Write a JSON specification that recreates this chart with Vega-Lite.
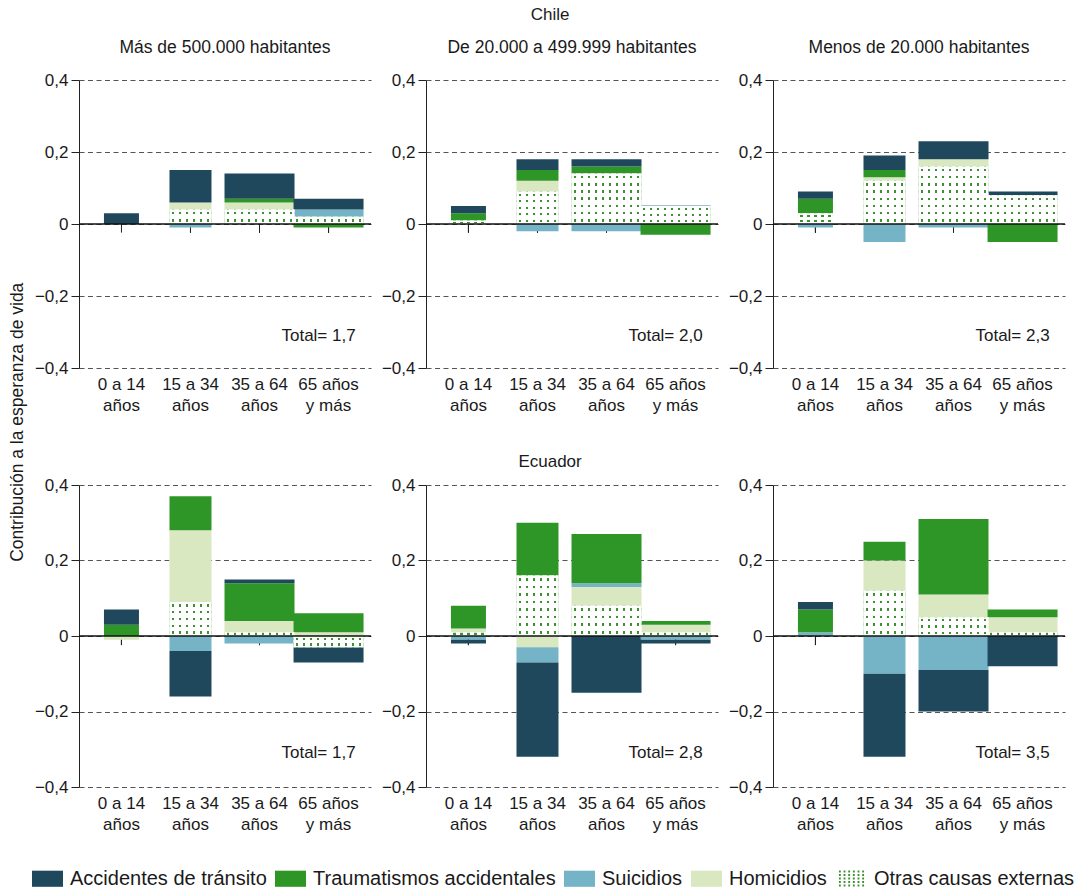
{
  "$schema": "https://vega.github.io/schema/vega-lite/v6.json",
  "padding": {"left": 8, "top": 5, "right": 5, "bottom": 0},
  "config": {
    "font": "Liberation Sans",
    "view": {"stroke": null},
    "locale": {"number": {"decimal": ",", "thousands": ".", "grouping": [3], "currency": ["", " €"], "minus": "−"}},
    "axis": {"labelFont": "Liberation Sans", "labelFontSize": 17, "labelColor": "#1a1a1a"},
    "header": {"labelFont": "Liberation Sans", "labelFontSize": 17.5, "labelColor": "#1a1a1a"}
  },
  "title": {"text": "Contribución a la esperanza de vida", "orient": "left", "anchor": "middle", "fontSize": 17.5, "fontWeight": "normal", "font": "Liberation Sans", "color": "#1a1a1a", "offset": 6, "dx": 25},
  "data": {"values": [
    {"pais": "Chile", "tamano": "Más de 500.000 habitantes", "grupo": "0 a 14 años", "causa": "Accidentes de tránsito", "valor": 0.03},
    {"pais": "Chile", "tamano": "Más de 500.000 habitantes", "grupo": "15 a 34 años", "causa": "Otras causas externas", "valor": 0.04},
    {"pais": "Chile", "tamano": "Más de 500.000 habitantes", "grupo": "15 a 34 años", "causa": "Homicidios", "valor": 0.02},
    {"pais": "Chile", "tamano": "Más de 500.000 habitantes", "grupo": "15 a 34 años", "causa": "Accidentes de tránsito", "valor": 0.09},
    {"pais": "Chile", "tamano": "Más de 500.000 habitantes", "grupo": "15 a 34 años", "causa": "Suicidios", "valor": -0.01},
    {"pais": "Chile", "tamano": "Más de 500.000 habitantes", "grupo": "35 a 64 años", "causa": "Otras causas externas", "valor": 0.04},
    {"pais": "Chile", "tamano": "Más de 500.000 habitantes", "grupo": "35 a 64 años", "causa": "Homicidios", "valor": 0.02},
    {"pais": "Chile", "tamano": "Más de 500.000 habitantes", "grupo": "35 a 64 años", "causa": "Traumatismos accidentales", "valor": 0.01},
    {"pais": "Chile", "tamano": "Más de 500.000 habitantes", "grupo": "35 a 64 años", "causa": "Accidentes de tránsito", "valor": 0.07},
    {"pais": "Chile", "tamano": "Más de 500.000 habitantes", "grupo": "65 años y más", "causa": "Otras causas externas", "valor": 0.02},
    {"pais": "Chile", "tamano": "Más de 500.000 habitantes", "grupo": "65 años y más", "causa": "Suicidios", "valor": 0.02},
    {"pais": "Chile", "tamano": "Más de 500.000 habitantes", "grupo": "65 años y más", "causa": "Accidentes de tránsito", "valor": 0.03},
    {"pais": "Chile", "tamano": "Más de 500.000 habitantes", "grupo": "65 años y más", "causa": "Traumatismos accidentales", "valor": -0.01},

    {"pais": "Chile", "tamano": "De 20.000 a 499.999 habitantes", "grupo": "0 a 14 años", "causa": "Otras causas externas", "valor": 0.01},
    {"pais": "Chile", "tamano": "De 20.000 a 499.999 habitantes", "grupo": "0 a 14 años", "causa": "Traumatismos accidentales", "valor": 0.02},
    {"pais": "Chile", "tamano": "De 20.000 a 499.999 habitantes", "grupo": "0 a 14 años", "causa": "Accidentes de tránsito", "valor": 0.02},
    {"pais": "Chile", "tamano": "De 20.000 a 499.999 habitantes", "grupo": "15 a 34 años", "causa": "Otras causas externas", "valor": 0.09},
    {"pais": "Chile", "tamano": "De 20.000 a 499.999 habitantes", "grupo": "15 a 34 años", "causa": "Homicidios", "valor": 0.03},
    {"pais": "Chile", "tamano": "De 20.000 a 499.999 habitantes", "grupo": "15 a 34 años", "causa": "Traumatismos accidentales", "valor": 0.03},
    {"pais": "Chile", "tamano": "De 20.000 a 499.999 habitantes", "grupo": "15 a 34 años", "causa": "Accidentes de tránsito", "valor": 0.03},
    {"pais": "Chile", "tamano": "De 20.000 a 499.999 habitantes", "grupo": "15 a 34 años", "causa": "Suicidios", "valor": -0.02},
    {"pais": "Chile", "tamano": "De 20.000 a 499.999 habitantes", "grupo": "35 a 64 años", "causa": "Otras causas externas", "valor": 0.14},
    {"pais": "Chile", "tamano": "De 20.000 a 499.999 habitantes", "grupo": "35 a 64 años", "causa": "Traumatismos accidentales", "valor": 0.02},
    {"pais": "Chile", "tamano": "De 20.000 a 499.999 habitantes", "grupo": "35 a 64 años", "causa": "Accidentes de tránsito", "valor": 0.02},
    {"pais": "Chile", "tamano": "De 20.000 a 499.999 habitantes", "grupo": "35 a 64 años", "causa": "Suicidios", "valor": -0.02},
    {"pais": "Chile", "tamano": "De 20.000 a 499.999 habitantes", "grupo": "65 años y más", "causa": "Otras causas externas", "valor": 0.05},
    {"pais": "Chile", "tamano": "De 20.000 a 499.999 habitantes", "grupo": "65 años y más", "causa": "Suicidios", "valor": 0.002},
    {"pais": "Chile", "tamano": "De 20.000 a 499.999 habitantes", "grupo": "65 años y más", "causa": "Traumatismos accidentales", "valor": -0.03},

    {"pais": "Chile", "tamano": "Menos de 20.000 habitantes", "grupo": "0 a 14 años", "causa": "Otras causas externas", "valor": 0.03},
    {"pais": "Chile", "tamano": "Menos de 20.000 habitantes", "grupo": "0 a 14 años", "causa": "Traumatismos accidentales", "valor": 0.04},
    {"pais": "Chile", "tamano": "Menos de 20.000 habitantes", "grupo": "0 a 14 años", "causa": "Accidentes de tránsito", "valor": 0.02},
    {"pais": "Chile", "tamano": "Menos de 20.000 habitantes", "grupo": "0 a 14 años", "causa": "Suicidios", "valor": -0.01},
    {"pais": "Chile", "tamano": "Menos de 20.000 habitantes", "grupo": "15 a 34 años", "causa": "Otras causas externas", "valor": 0.12},
    {"pais": "Chile", "tamano": "Menos de 20.000 habitantes", "grupo": "15 a 34 años", "causa": "Homicidios", "valor": 0.01},
    {"pais": "Chile", "tamano": "Menos de 20.000 habitantes", "grupo": "15 a 34 años", "causa": "Traumatismos accidentales", "valor": 0.02},
    {"pais": "Chile", "tamano": "Menos de 20.000 habitantes", "grupo": "15 a 34 años", "causa": "Accidentes de tránsito", "valor": 0.04},
    {"pais": "Chile", "tamano": "Menos de 20.000 habitantes", "grupo": "15 a 34 años", "causa": "Suicidios", "valor": -0.05},
    {"pais": "Chile", "tamano": "Menos de 20.000 habitantes", "grupo": "35 a 64 años", "causa": "Otras causas externas", "valor": 0.16},
    {"pais": "Chile", "tamano": "Menos de 20.000 habitantes", "grupo": "35 a 64 años", "causa": "Homicidios", "valor": 0.02},
    {"pais": "Chile", "tamano": "Menos de 20.000 habitantes", "grupo": "35 a 64 años", "causa": "Accidentes de tránsito", "valor": 0.05},
    {"pais": "Chile", "tamano": "Menos de 20.000 habitantes", "grupo": "35 a 64 años", "causa": "Suicidios", "valor": -0.01},
    {"pais": "Chile", "tamano": "Menos de 20.000 habitantes", "grupo": "65 años y más", "causa": "Otras causas externas", "valor": 0.08},
    {"pais": "Chile", "tamano": "Menos de 20.000 habitantes", "grupo": "65 años y más", "causa": "Accidentes de tránsito", "valor": 0.01},
    {"pais": "Chile", "tamano": "Menos de 20.000 habitantes", "grupo": "65 años y más", "causa": "Traumatismos accidentales", "valor": -0.05},

    {"pais": "Ecuador", "tamano": "Más de 500.000 habitantes", "grupo": "0 a 14 años", "causa": "Traumatismos accidentales", "valor": 0.03},
    {"pais": "Ecuador", "tamano": "Más de 500.000 habitantes", "grupo": "0 a 14 años", "causa": "Accidentes de tránsito", "valor": 0.04},
    {"pais": "Ecuador", "tamano": "Más de 500.000 habitantes", "grupo": "0 a 14 años", "causa": "Homicidios", "valor": -0.01},
    {"pais": "Ecuador", "tamano": "Más de 500.000 habitantes", "grupo": "15 a 34 años", "causa": "Otras causas externas", "valor": 0.09},
    {"pais": "Ecuador", "tamano": "Más de 500.000 habitantes", "grupo": "15 a 34 años", "causa": "Homicidios", "valor": 0.19},
    {"pais": "Ecuador", "tamano": "Más de 500.000 habitantes", "grupo": "15 a 34 años", "causa": "Traumatismos accidentales", "valor": 0.09},
    {"pais": "Ecuador", "tamano": "Más de 500.000 habitantes", "grupo": "15 a 34 años", "causa": "Suicidios", "valor": -0.04},
    {"pais": "Ecuador", "tamano": "Más de 500.000 habitantes", "grupo": "15 a 34 años", "causa": "Accidentes de tránsito", "valor": -0.12},
    {"pais": "Ecuador", "tamano": "Más de 500.000 habitantes", "grupo": "35 a 64 años", "causa": "Otras causas externas", "valor": 0.01},
    {"pais": "Ecuador", "tamano": "Más de 500.000 habitantes", "grupo": "35 a 64 años", "causa": "Homicidios", "valor": 0.03},
    {"pais": "Ecuador", "tamano": "Más de 500.000 habitantes", "grupo": "35 a 64 años", "causa": "Traumatismos accidentales", "valor": 0.10},
    {"pais": "Ecuador", "tamano": "Más de 500.000 habitantes", "grupo": "35 a 64 años", "causa": "Accidentes de tránsito", "valor": 0.01},
    {"pais": "Ecuador", "tamano": "Más de 500.000 habitantes", "grupo": "35 a 64 años", "causa": "Suicidios", "valor": -0.02},
    {"pais": "Ecuador", "tamano": "Más de 500.000 habitantes", "grupo": "65 años y más", "causa": "Homicidios", "valor": 0.01},
    {"pais": "Ecuador", "tamano": "Más de 500.000 habitantes", "grupo": "65 años y más", "causa": "Traumatismos accidentales", "valor": 0.05},
    {"pais": "Ecuador", "tamano": "Más de 500.000 habitantes", "grupo": "65 años y más", "causa": "Otras causas externas", "valor": -0.03},
    {"pais": "Ecuador", "tamano": "Más de 500.000 habitantes", "grupo": "65 años y más", "causa": "Accidentes de tránsito", "valor": -0.04},

    {"pais": "Ecuador", "tamano": "De 20.000 a 499.999 habitantes", "grupo": "0 a 14 años", "causa": "Otras causas externas", "valor": 0.01},
    {"pais": "Ecuador", "tamano": "De 20.000 a 499.999 habitantes", "grupo": "0 a 14 años", "causa": "Homicidios", "valor": 0.01},
    {"pais": "Ecuador", "tamano": "De 20.000 a 499.999 habitantes", "grupo": "0 a 14 años", "causa": "Traumatismos accidentales", "valor": 0.06},
    {"pais": "Ecuador", "tamano": "De 20.000 a 499.999 habitantes", "grupo": "0 a 14 años", "causa": "Suicidios", "valor": -0.01},
    {"pais": "Ecuador", "tamano": "De 20.000 a 499.999 habitantes", "grupo": "0 a 14 años", "causa": "Accidentes de tránsito", "valor": -0.01},
    {"pais": "Ecuador", "tamano": "De 20.000 a 499.999 habitantes", "grupo": "15 a 34 años", "causa": "Otras causas externas", "valor": 0.16},
    {"pais": "Ecuador", "tamano": "De 20.000 a 499.999 habitantes", "grupo": "15 a 34 años", "causa": "Traumatismos accidentales", "valor": 0.14},
    {"pais": "Ecuador", "tamano": "De 20.000 a 499.999 habitantes", "grupo": "15 a 34 años", "causa": "Homicidios", "valor": -0.03},
    {"pais": "Ecuador", "tamano": "De 20.000 a 499.999 habitantes", "grupo": "15 a 34 años", "causa": "Suicidios", "valor": -0.04},
    {"pais": "Ecuador", "tamano": "De 20.000 a 499.999 habitantes", "grupo": "15 a 34 años", "causa": "Accidentes de tránsito", "valor": -0.25},
    {"pais": "Ecuador", "tamano": "De 20.000 a 499.999 habitantes", "grupo": "35 a 64 años", "causa": "Otras causas externas", "valor": 0.08},
    {"pais": "Ecuador", "tamano": "De 20.000 a 499.999 habitantes", "grupo": "35 a 64 años", "causa": "Homicidios", "valor": 0.05},
    {"pais": "Ecuador", "tamano": "De 20.000 a 499.999 habitantes", "grupo": "35 a 64 años", "causa": "Suicidios", "valor": 0.01},
    {"pais": "Ecuador", "tamano": "De 20.000 a 499.999 habitantes", "grupo": "35 a 64 años", "causa": "Traumatismos accidentales", "valor": 0.13},
    {"pais": "Ecuador", "tamano": "De 20.000 a 499.999 habitantes", "grupo": "35 a 64 años", "causa": "Accidentes de tránsito", "valor": -0.15},
    {"pais": "Ecuador", "tamano": "De 20.000 a 499.999 habitantes", "grupo": "65 años y más", "causa": "Otras causas externas", "valor": 0.01},
    {"pais": "Ecuador", "tamano": "De 20.000 a 499.999 habitantes", "grupo": "65 años y más", "causa": "Homicidios", "valor": 0.02},
    {"pais": "Ecuador", "tamano": "De 20.000 a 499.999 habitantes", "grupo": "65 años y más", "causa": "Traumatismos accidentales", "valor": 0.01},
    {"pais": "Ecuador", "tamano": "De 20.000 a 499.999 habitantes", "grupo": "65 años y más", "causa": "Suicidios", "valor": -0.01},
    {"pais": "Ecuador", "tamano": "De 20.000 a 499.999 habitantes", "grupo": "65 años y más", "causa": "Accidentes de tránsito", "valor": -0.01},

    {"pais": "Ecuador", "tamano": "Menos de 20.000 habitantes", "grupo": "0 a 14 años", "causa": "Suicidios", "valor": 0.01},
    {"pais": "Ecuador", "tamano": "Menos de 20.000 habitantes", "grupo": "0 a 14 años", "causa": "Traumatismos accidentales", "valor": 0.06},
    {"pais": "Ecuador", "tamano": "Menos de 20.000 habitantes", "grupo": "0 a 14 años", "causa": "Accidentes de tránsito", "valor": 0.02},
    {"pais": "Ecuador", "tamano": "Menos de 20.000 habitantes", "grupo": "15 a 34 años", "causa": "Otras causas externas", "valor": 0.12},
    {"pais": "Ecuador", "tamano": "Menos de 20.000 habitantes", "grupo": "15 a 34 años", "causa": "Homicidios", "valor": 0.08},
    {"pais": "Ecuador", "tamano": "Menos de 20.000 habitantes", "grupo": "15 a 34 años", "causa": "Traumatismos accidentales", "valor": 0.05},
    {"pais": "Ecuador", "tamano": "Menos de 20.000 habitantes", "grupo": "15 a 34 años", "causa": "Suicidios", "valor": -0.10},
    {"pais": "Ecuador", "tamano": "Menos de 20.000 habitantes", "grupo": "15 a 34 años", "causa": "Accidentes de tránsito", "valor": -0.22},
    {"pais": "Ecuador", "tamano": "Menos de 20.000 habitantes", "grupo": "35 a 64 años", "causa": "Otras causas externas", "valor": 0.05},
    {"pais": "Ecuador", "tamano": "Menos de 20.000 habitantes", "grupo": "35 a 64 años", "causa": "Homicidios", "valor": 0.06},
    {"pais": "Ecuador", "tamano": "Menos de 20.000 habitantes", "grupo": "35 a 64 años", "causa": "Traumatismos accidentales", "valor": 0.20},
    {"pais": "Ecuador", "tamano": "Menos de 20.000 habitantes", "grupo": "35 a 64 años", "causa": "Suicidios", "valor": -0.09},
    {"pais": "Ecuador", "tamano": "Menos de 20.000 habitantes", "grupo": "35 a 64 años", "causa": "Accidentes de tránsito", "valor": -0.11},
    {"pais": "Ecuador", "tamano": "Menos de 20.000 habitantes", "grupo": "65 años y más", "causa": "Otras causas externas", "valor": 0.01},
    {"pais": "Ecuador", "tamano": "Menos de 20.000 habitantes", "grupo": "65 años y más", "causa": "Homicidios", "valor": 0.04},
    {"pais": "Ecuador", "tamano": "Menos de 20.000 habitantes", "grupo": "65 años y más", "causa": "Traumatismos accidentales", "valor": 0.02},
    {"pais": "Ecuador", "tamano": "Menos de 20.000 habitantes", "grupo": "65 años y más", "causa": "Accidentes de tránsito", "valor": -0.08},

    {"pais": "Chile", "tamano": "Más de 500.000 habitantes", "total": "Total= 1,7"},
    {"pais": "Chile", "tamano": "De 20.000 a 499.999 habitantes", "total": "Total= 2,0"},
    {"pais": "Chile", "tamano": "Menos de 20.000 habitantes", "total": "Total= 2,3"},
    {"pais": "Ecuador", "tamano": "Más de 500.000 habitantes", "total": "Total= 1,7"},
    {"pais": "Ecuador", "tamano": "De 20.000 a 499.999 habitantes", "total": "Total= 2,8"},
    {"pais": "Ecuador", "tamano": "Menos de 20.000 habitantes", "total": "Total= 3,5"}
  ]},
  "transform": [
    {"lookup": "causa", "from": {"data": {"values": [
      {"causa": "Otras causas externas", "orden": 1},
      {"causa": "Homicidios", "orden": 2},
      {"causa": "Suicidios", "orden": 3},
      {"causa": "Traumatismos accidentales", "orden": 4},
      {"causa": "Accidentes de tránsito", "orden": 5}
    ]}, "key": "causa", "fields": ["orden"]}}
  ],
  "spacing": 40,
  "vconcat": [
    {
      "title": {"text": "Chile", "fontSize": 17, "fontWeight": "normal", "anchor": "middle", "color": "#1a1a1a", "offset": 15},
      "transform": [{"filter": "datum.pais == 'Chile'"}],
      "facet": {"column": {"field": "tamano", "type": "nominal", "sort": ["Más de 500.000 habitantes", "De 20.000 a 499.999 habitantes", "Menos de 20.000 habitantes"], "header": {"title": null, "labelPadding": 24}}},
      "spacing": 55,
      "bounds": "flush",
      "resolve": {"axis": {"y": "independent", "x": "independent"}},
      "spec": {
        "width": 292,
        "height": 288,
        "layer": [
          {
            "transform": [{"filter": "isValid(datum.grupo)"}],
            "mark": {"type": "rule", "color": "#222", "strokeWidth": 1},
            "encoding": {
              "x": {"field": "grupo", "type": "nominal", "sort": ["0 a 14 años", "15 a 34 años", "35 a 64 años", "65 años y más"], "scale": {"paddingInner": 0, "paddingOuter": 0.115}},
              "y": {"datum": 0, "type": "quantitative"},
              "y2": {"datum": -0.024}
            }
          },
          {
            "transform": [{"filter": "isValid(datum.valor)"}],
            "mark": {"type": "bar"},
            "encoding": {
              "x": {"field": "grupo", "type": "nominal", "sort": ["0 a 14 años", "15 a 34 años", "35 a 64 años", "65 años y más"], "scale": {"paddingInner": 0, "paddingOuter": 0.115},
                "axis": {"title": null, "domain": false, "ticks": false, "labelAngle": 0, "labelAlign": "center", "labelPadding": 16, "labelLineHeight": 21, "labelExpr": "datum.value == '65 años y más' ? ['65 años', 'y más'] : [replace(datum.value, ' años', ''), 'años']"}},
              "y": {"field": "valor", "type": "quantitative", "stack": "zero", "scale": {"domain": [-0.4, 0.4], "nice": false},
                "axis": {"title": null, "values": [-0.4, -0.2, 0, 0.2, 0.4], "format": ".1~f", "grid": true, "gridDash": [5, 3.5], "gridColor": "#555", "gridWidth": 1, "domainColor": "#222", "tickColor": "#222", "tickSize": 8, "labelPadding": 3}},
              "color": {"field": "causa", "type": "nominal",
                "scale": {"domain": ["Accidentes de tránsito", "Traumatismos accidentales", "Suicidios", "Homicidios", "Otras causas externas"], "range": ["#1f485d", "#2e9626", "#74b4c6", "#d9e8c1", "#3d9130"]},
                "legend": {"title": null, "values": ["Accidentes de tránsito", "Traumatismos accidentales", "Suicidios", "Homicidios"], "orient": "none", "legendX": -47, "legendY": 783, "direction": "horizontal", "columns": 4, "labelFontSize": 20, "labelFont": "Liberation Sans", "labelColor": "#1a1a1a", "labelLimit": 0, "labelOffset": 7, "columnPadding": 8, "symbolType": "M-1,-0.52H1V0.52H-1Z", "symbolSize": 961, "symbolStrokeWidth": 0, "symbolOpacity": 1}},
              "order": {"field": "orden", "type": "quantitative", "sort": "ascending"},
              "size": {"field": "grupo", "type": "ordinal", "scale": {"type": "ordinal", "domain": ["0 a 14 años", "15 a 34 años", "35 a 64 años", "65 años y más"], "range": [35, 42, 70, 70]}, "legend": null}
            }
          },
          {
            "transform": [{"filter": "datum.causa == 'Otras causas externas'"}],
            "mark": {"type": "bar"},
            "encoding": {
              "x": {"field": "grupo", "type": "nominal", "sort": ["0 a 14 años", "15 a 34 años", "35 a 64 años", "65 años y más"], "scale": {"paddingInner": 0, "paddingOuter": 0.115}},
              "y": {"field": "valor", "type": "quantitative", "stack": null},
              "size": {"field": "grupo", "type": "ordinal", "scale": {"type": "ordinal", "domain": ["0 a 14 años", "15 a 34 años", "35 a 64 años", "65 años y más"], "range": [35, 42, 70, 70]}, "legend": null},
              "fill": {"condition": [
                {"test": "datum.grupo == '0 a 14 años'", "value": {"gradient": "linear", "x1": 0, "y1": 0, "x2": 1, "y2": 0, "stops": [
                  {"offset": 0, "color": "#fff"}, {"offset": 0.066, "color": "#fff"}, {"offset": 0.066, "color": "#3d9130"}, {"offset": 0.134, "color": "#3d9130"}, {"offset": 0.134, "color": "#fff"},
                  {"offset": 0.266, "color": "#fff"}, {"offset": 0.266, "color": "#3d9130"}, {"offset": 0.334, "color": "#3d9130"}, {"offset": 0.334, "color": "#fff"},
                  {"offset": 0.466, "color": "#fff"}, {"offset": 0.466, "color": "#3d9130"}, {"offset": 0.534, "color": "#3d9130"}, {"offset": 0.534, "color": "#fff"},
                  {"offset": 0.666, "color": "#fff"}, {"offset": 0.666, "color": "#3d9130"}, {"offset": 0.734, "color": "#3d9130"}, {"offset": 0.734, "color": "#fff"},
                  {"offset": 0.866, "color": "#fff"}, {"offset": 0.866, "color": "#3d9130"}, {"offset": 0.934, "color": "#3d9130"}, {"offset": 0.934, "color": "#fff"},
                  {"offset": 1, "color": "#fff"}]}},
                {"test": "datum.grupo == '15 a 34 años'", "value": {"gradient": "linear", "x1": 0, "y1": 0, "x2": 1, "y2": 0, "stops": [
                  {"offset": 0, "color": "#fff"}, {"offset": 0.055, "color": "#fff"}, {"offset": 0.055, "color": "#3d9130"}, {"offset": 0.112, "color": "#3d9130"}, {"offset": 0.112, "color": "#fff"},
                  {"offset": 0.222, "color": "#fff"}, {"offset": 0.222, "color": "#3d9130"}, {"offset": 0.278, "color": "#3d9130"}, {"offset": 0.278, "color": "#fff"},
                  {"offset": 0.389, "color": "#fff"}, {"offset": 0.389, "color": "#3d9130"}, {"offset": 0.445, "color": "#3d9130"}, {"offset": 0.445, "color": "#fff"},
                  {"offset": 0.555, "color": "#fff"}, {"offset": 0.555, "color": "#3d9130"}, {"offset": 0.612, "color": "#3d9130"}, {"offset": 0.612, "color": "#fff"},
                  {"offset": 0.722, "color": "#fff"}, {"offset": 0.722, "color": "#3d9130"}, {"offset": 0.778, "color": "#3d9130"}, {"offset": 0.778, "color": "#fff"},
                  {"offset": 0.889, "color": "#fff"}, {"offset": 0.889, "color": "#3d9130"}, {"offset": 0.945, "color": "#3d9130"}, {"offset": 0.945, "color": "#fff"},
                  {"offset": 1, "color": "#fff"}]}}
              ], "value": {"gradient": "linear", "x1": 0, "y1": 0, "x2": 1, "y2": 0, "stops": [
                  {"offset": 0, "color": "#fff"}, {"offset": 0.033, "color": "#fff"}, {"offset": 0.033, "color": "#3d9130"}, {"offset": 0.067, "color": "#3d9130"}, {"offset": 0.067, "color": "#fff"},
                  {"offset": 0.133, "color": "#fff"}, {"offset": 0.133, "color": "#3d9130"}, {"offset": 0.167, "color": "#3d9130"}, {"offset": 0.167, "color": "#fff"},
                  {"offset": 0.233, "color": "#fff"}, {"offset": 0.233, "color": "#3d9130"}, {"offset": 0.267, "color": "#3d9130"}, {"offset": 0.267, "color": "#fff"},
                  {"offset": 0.333, "color": "#fff"}, {"offset": 0.333, "color": "#3d9130"}, {"offset": 0.367, "color": "#3d9130"}, {"offset": 0.367, "color": "#fff"},
                  {"offset": 0.433, "color": "#fff"}, {"offset": 0.433, "color": "#3d9130"}, {"offset": 0.467, "color": "#3d9130"}, {"offset": 0.467, "color": "#fff"},
                  {"offset": 0.533, "color": "#fff"}, {"offset": 0.533, "color": "#3d9130"}, {"offset": 0.567, "color": "#3d9130"}, {"offset": 0.567, "color": "#fff"},
                  {"offset": 0.633, "color": "#fff"}, {"offset": 0.633, "color": "#3d9130"}, {"offset": 0.667, "color": "#3d9130"}, {"offset": 0.667, "color": "#fff"},
                  {"offset": 0.733, "color": "#fff"}, {"offset": 0.733, "color": "#3d9130"}, {"offset": 0.767, "color": "#3d9130"}, {"offset": 0.767, "color": "#fff"},
                  {"offset": 0.833, "color": "#fff"}, {"offset": 0.833, "color": "#3d9130"}, {"offset": 0.867, "color": "#3d9130"}, {"offset": 0.867, "color": "#fff"},
                  {"offset": 0.933, "color": "#fff"}, {"offset": 0.933, "color": "#3d9130"}, {"offset": 0.967, "color": "#3d9130"}, {"offset": 0.967, "color": "#fff"},
                  {"offset": 1, "color": "#fff"}]}}
            }
          },
          {
            "transform": [{"filter": "datum.causa == 'Otras causas externas'"}],
            "mark": {"type": "bar"},
            "encoding": {
              "x": {"field": "grupo", "type": "nominal", "sort": ["0 a 14 años", "15 a 34 años", "35 a 64 años", "65 años y más"], "scale": {"paddingInner": 0, "paddingOuter": 0.115}},
              "y": {"field": "valor", "type": "quantitative", "stack": null},
              "size": {"field": "grupo", "type": "ordinal", "scale": {"type": "ordinal", "domain": ["0 a 14 años", "15 a 34 años", "35 a 64 años", "65 años y más"], "range": [35, 42, 70, 70]}, "legend": null},
              "fill": {"condition": [
                {"test": "abs(datum.valor) < 0.025", "value": {"gradient": "linear", "x1": 0, "y1": 0, "x2": 0, "y2": 1, "stops": [
                  {"offset": 0, "color": "#fff"}, {"offset": 0.32, "color": "#fff"}, {"offset": 0.32, "color": "rgba(255,255,255,0)"}, {"offset": 0.68, "color": "rgba(255,255,255,0)"}, {"offset": 0.68, "color": "#fff"}, {"offset": 1, "color": "#fff"}]}},
                {"test": "abs(datum.valor) < 0.045", "value": {"gradient": "linear", "x1": 0, "y1": 0, "x2": 0, "y2": 1, "stops": [
                  {"offset": 0, "color": "#fff"},
                  {"offset": 0.16, "color": "#fff"}, {"offset": 0.16, "color": "rgba(255,255,255,0)"}, {"offset": 0.34, "color": "rgba(255,255,255,0)"}, {"offset": 0.34, "color": "#fff"},
                  {"offset": 0.66, "color": "#fff"}, {"offset": 0.66, "color": "rgba(255,255,255,0)"}, {"offset": 0.84, "color": "rgba(255,255,255,0)"}, {"offset": 0.84, "color": "#fff"},
                  {"offset": 1, "color": "#fff"}]}},
                {"test": "abs(datum.valor) < 0.065", "value": {"gradient": "linear", "x1": 0, "y1": 0, "x2": 0, "y2": 1, "stops": [
                  {"offset": 0, "color": "#fff"},
                  {"offset": 0.107, "color": "#fff"}, {"offset": 0.107, "color": "rgba(255,255,255,0)"}, {"offset": 0.227, "color": "rgba(255,255,255,0)"}, {"offset": 0.227, "color": "#fff"},
                  {"offset": 0.44, "color": "#fff"}, {"offset": 0.44, "color": "rgba(255,255,255,0)"}, {"offset": 0.56, "color": "rgba(255,255,255,0)"}, {"offset": 0.56, "color": "#fff"},
                  {"offset": 0.773, "color": "#fff"}, {"offset": 0.773, "color": "rgba(255,255,255,0)"}, {"offset": 0.893, "color": "rgba(255,255,255,0)"}, {"offset": 0.893, "color": "#fff"},
                  {"offset": 1, "color": "#fff"}]}},
                {"test": "abs(datum.valor) < 0.085", "value": {"gradient": "linear", "x1": 0, "y1": 0, "x2": 0, "y2": 1, "stops": [
                  {"offset": 0, "color": "#fff"},
                  {"offset": 0.08, "color": "#fff"}, {"offset": 0.08, "color": "rgba(255,255,255,0)"}, {"offset": 0.17, "color": "rgba(255,255,255,0)"}, {"offset": 0.17, "color": "#fff"},
                  {"offset": 0.33, "color": "#fff"}, {"offset": 0.33, "color": "rgba(255,255,255,0)"}, {"offset": 0.42, "color": "rgba(255,255,255,0)"}, {"offset": 0.42, "color": "#fff"},
                  {"offset": 0.58, "color": "#fff"}, {"offset": 0.58, "color": "rgba(255,255,255,0)"}, {"offset": 0.67, "color": "rgba(255,255,255,0)"}, {"offset": 0.67, "color": "#fff"},
                  {"offset": 0.83, "color": "#fff"}, {"offset": 0.83, "color": "rgba(255,255,255,0)"}, {"offset": 0.92, "color": "rgba(255,255,255,0)"}, {"offset": 0.92, "color": "#fff"},
                  {"offset": 1, "color": "#fff"}]}},
                {"test": "abs(datum.valor) < 0.105", "value": {"gradient": "linear", "x1": 0, "y1": 0, "x2": 0, "y2": 1, "stops": [
                  {"offset": 0, "color": "#fff"},
                  {"offset": 0.064, "color": "#fff"}, {"offset": 0.064, "color": "rgba(255,255,255,0)"}, {"offset": 0.136, "color": "rgba(255,255,255,0)"}, {"offset": 0.136, "color": "#fff"},
                  {"offset": 0.264, "color": "#fff"}, {"offset": 0.264, "color": "rgba(255,255,255,0)"}, {"offset": 0.336, "color": "rgba(255,255,255,0)"}, {"offset": 0.336, "color": "#fff"},
                  {"offset": 0.464, "color": "#fff"}, {"offset": 0.464, "color": "rgba(255,255,255,0)"}, {"offset": 0.536, "color": "rgba(255,255,255,0)"}, {"offset": 0.536, "color": "#fff"},
                  {"offset": 0.664, "color": "#fff"}, {"offset": 0.664, "color": "rgba(255,255,255,0)"}, {"offset": 0.736, "color": "rgba(255,255,255,0)"}, {"offset": 0.736, "color": "#fff"},
                  {"offset": 0.864, "color": "#fff"}, {"offset": 0.864, "color": "rgba(255,255,255,0)"}, {"offset": 0.936, "color": "rgba(255,255,255,0)"}, {"offset": 0.936, "color": "#fff"},
                  {"offset": 1, "color": "#fff"}]}},
                {"test": "abs(datum.valor) < 0.13", "value": {"gradient": "linear", "x1": 0, "y1": 0, "x2": 0, "y2": 1, "stops": [
                  {"offset": 0, "color": "#fff"},
                  {"offset": 0.053, "color": "#fff"}, {"offset": 0.053, "color": "rgba(255,255,255,0)"}, {"offset": 0.113, "color": "rgba(255,255,255,0)"}, {"offset": 0.113, "color": "#fff"},
                  {"offset": 0.22, "color": "#fff"}, {"offset": 0.22, "color": "rgba(255,255,255,0)"}, {"offset": 0.28, "color": "rgba(255,255,255,0)"}, {"offset": 0.28, "color": "#fff"},
                  {"offset": 0.387, "color": "#fff"}, {"offset": 0.387, "color": "rgba(255,255,255,0)"}, {"offset": 0.447, "color": "rgba(255,255,255,0)"}, {"offset": 0.447, "color": "#fff"},
                  {"offset": 0.553, "color": "#fff"}, {"offset": 0.553, "color": "rgba(255,255,255,0)"}, {"offset": 0.613, "color": "rgba(255,255,255,0)"}, {"offset": 0.613, "color": "#fff"},
                  {"offset": 0.72, "color": "#fff"}, {"offset": 0.72, "color": "rgba(255,255,255,0)"}, {"offset": 0.78, "color": "rgba(255,255,255,0)"}, {"offset": 0.78, "color": "#fff"},
                  {"offset": 0.887, "color": "#fff"}, {"offset": 0.887, "color": "rgba(255,255,255,0)"}, {"offset": 0.947, "color": "rgba(255,255,255,0)"}, {"offset": 0.947, "color": "#fff"},
                  {"offset": 1, "color": "#fff"}]}},
                {"test": "abs(datum.valor) < 0.15", "value": {"gradient": "linear", "x1": 0, "y1": 0, "x2": 0, "y2": 1, "stops": [
                  {"offset": 0, "color": "#fff"},
                  {"offset": 0.046, "color": "#fff"}, {"offset": 0.046, "color": "rgba(255,255,255,0)"}, {"offset": 0.097, "color": "rgba(255,255,255,0)"}, {"offset": 0.097, "color": "#fff"},
                  {"offset": 0.189, "color": "#fff"}, {"offset": 0.189, "color": "rgba(255,255,255,0)"}, {"offset": 0.24, "color": "rgba(255,255,255,0)"}, {"offset": 0.24, "color": "#fff"},
                  {"offset": 0.331, "color": "#fff"}, {"offset": 0.331, "color": "rgba(255,255,255,0)"}, {"offset": 0.383, "color": "rgba(255,255,255,0)"}, {"offset": 0.383, "color": "#fff"},
                  {"offset": 0.474, "color": "#fff"}, {"offset": 0.474, "color": "rgba(255,255,255,0)"}, {"offset": 0.526, "color": "rgba(255,255,255,0)"}, {"offset": 0.526, "color": "#fff"},
                  {"offset": 0.617, "color": "#fff"}, {"offset": 0.617, "color": "rgba(255,255,255,0)"}, {"offset": 0.669, "color": "rgba(255,255,255,0)"}, {"offset": 0.669, "color": "#fff"},
                  {"offset": 0.76, "color": "#fff"}, {"offset": 0.76, "color": "rgba(255,255,255,0)"}, {"offset": 0.811, "color": "rgba(255,255,255,0)"}, {"offset": 0.811, "color": "#fff"},
                  {"offset": 0.903, "color": "#fff"}, {"offset": 0.903, "color": "rgba(255,255,255,0)"}, {"offset": 0.954, "color": "rgba(255,255,255,0)"}, {"offset": 0.954, "color": "#fff"},
                  {"offset": 1, "color": "#fff"}]}}
              ], "value": {"gradient": "linear", "x1": 0, "y1": 0, "x2": 0, "y2": 1, "stops": [
                  {"offset": 0, "color": "#fff"},
                  {"offset": 0.04, "color": "#fff"}, {"offset": 0.04, "color": "rgba(255,255,255,0)"}, {"offset": 0.085, "color": "rgba(255,255,255,0)"}, {"offset": 0.085, "color": "#fff"},
                  {"offset": 0.165, "color": "#fff"}, {"offset": 0.165, "color": "rgba(255,255,255,0)"}, {"offset": 0.21, "color": "rgba(255,255,255,0)"}, {"offset": 0.21, "color": "#fff"},
                  {"offset": 0.29, "color": "#fff"}, {"offset": 0.29, "color": "rgba(255,255,255,0)"}, {"offset": 0.335, "color": "rgba(255,255,255,0)"}, {"offset": 0.335, "color": "#fff"},
                  {"offset": 0.415, "color": "#fff"}, {"offset": 0.415, "color": "rgba(255,255,255,0)"}, {"offset": 0.46, "color": "rgba(255,255,255,0)"}, {"offset": 0.46, "color": "#fff"},
                  {"offset": 0.54, "color": "#fff"}, {"offset": 0.54, "color": "rgba(255,255,255,0)"}, {"offset": 0.585, "color": "rgba(255,255,255,0)"}, {"offset": 0.585, "color": "#fff"},
                  {"offset": 0.665, "color": "#fff"}, {"offset": 0.665, "color": "rgba(255,255,255,0)"}, {"offset": 0.71, "color": "rgba(255,255,255,0)"}, {"offset": 0.71, "color": "#fff"},
                  {"offset": 0.79, "color": "#fff"}, {"offset": 0.79, "color": "rgba(255,255,255,0)"}, {"offset": 0.835, "color": "rgba(255,255,255,0)"}, {"offset": 0.835, "color": "#fff"},
                  {"offset": 0.915, "color": "#fff"}, {"offset": 0.915, "color": "rgba(255,255,255,0)"}, {"offset": 0.96, "color": "rgba(255,255,255,0)"}, {"offset": 0.96, "color": "#fff"},
                  {"offset": 1, "color": "#fff"}]}}
            }
          },
          {
            "transform": [{"filter": "datum.causa == 'Otras causas externas'"}],
            "mark": {"type": "point", "filled": true, "opacity": 0, "color": "#3d9130"},
            "encoding": {
              "x": {"field": "grupo", "type": "nominal", "sort": ["0 a 14 años", "15 a 34 años", "35 a 64 años", "65 años y más"], "scale": {"paddingInner": 0, "paddingOuter": 0.115}},
              "y": {"field": "valor", "type": "quantitative", "stack": null},
              "shape": {"field": "causa", "type": "nominal",
                "scale": {"domain": ["Otras causas externas"], "range": ["M-0.81,-0.51h0.12v0.12h-0.12zM-0.51,-0.51h0.12v0.12h-0.12zM-0.21,-0.51h0.12v0.12h-0.12zM0.09,-0.51h0.12v0.12h-0.12zM0.39,-0.51h0.12v0.12h-0.12zM0.69,-0.51h0.12v0.12h-0.12zM-0.81,-0.285h0.12v0.12h-0.12zM-0.51,-0.285h0.12v0.12h-0.12zM-0.21,-0.285h0.12v0.12h-0.12zM0.09,-0.285h0.12v0.12h-0.12zM0.39,-0.285h0.12v0.12h-0.12zM0.69,-0.285h0.12v0.12h-0.12zM-0.81,-0.06h0.12v0.12h-0.12zM-0.51,-0.06h0.12v0.12h-0.12zM-0.21,-0.06h0.12v0.12h-0.12zM0.09,-0.06h0.12v0.12h-0.12zM0.39,-0.06h0.12v0.12h-0.12zM0.69,-0.06h0.12v0.12h-0.12zM-0.81,0.165h0.12v0.12h-0.12zM-0.51,0.165h0.12v0.12h-0.12zM-0.21,0.165h0.12v0.12h-0.12zM0.09,0.165h0.12v0.12h-0.12zM0.39,0.165h0.12v0.12h-0.12zM0.69,0.165h0.12v0.12h-0.12zM-0.81,0.39h0.12v0.12h-0.12zM-0.51,0.39h0.12v0.12h-0.12zM-0.21,0.39h0.12v0.12h-0.12zM0.09,0.39h0.12v0.12h-0.12zM0.39,0.39h0.12v0.12h-0.12zM0.69,0.39h0.12v0.12h-0.12z"]},
                "legend": {"title": null, "orient": "none", "legendX": 757, "legendY": 783, "labelFontSize": 20, "labelFont": "Liberation Sans", "labelColor": "#1a1a1a", "labelLimit": 0, "labelOffset": 7, "symbolSize": 961, "symbolOpacity": 1, "symbolFillColor": "#3d9130", "symbolStrokeWidth": 0}}
            }
          },
          {
            "transform": [{"filter": "isValid(datum.total)"}],
            "mark": {"type": "rule", "color": "#111", "strokeWidth": 1.3},
            "encoding": {"y": {"datum": 0, "type": "quantitative"}}
          },
          {
            "transform": [{"filter": "isValid(datum.total)"}],
            "mark": {"type": "text", "fontSize": 17, "font": "Liberation Sans", "color": "#1a1a1a", "baseline": "middle", "align": "center", "dx": -10},
            "encoding": {
              "x": {"datum": "65 años y más", "type": "nominal"},
              "y": {"datum": -0.31, "type": "quantitative"},
              "text": {"field": "total", "type": "nominal"}
            }
          }
        ]
      }
    },
    {
      "title": {"text": "Ecuador", "fontSize": 17, "fontWeight": "normal", "anchor": "middle", "color": "#1a1a1a", "offset": 5},
      "transform": [{"filter": "datum.pais == 'Ecuador'"}],
      "facet": {"column": {"field": "tamano", "type": "nominal", "sort": ["Más de 500.000 habitantes", "De 20.000 a 499.999 habitantes", "Menos de 20.000 habitantes"], "header": {"title": null, "labels": false}}},
      "spacing": 55,
      "bounds": "flush",
      "resolve": {"axis": {"y": "independent", "x": "independent"}},
      "spec": {
        "width": 292,
        "height": 302,
        "layer": [
          {
            "transform": [{"filter": "isValid(datum.grupo)"}],
            "mark": {"type": "rule", "color": "#222", "strokeWidth": 1},
            "encoding": {
              "x": {"field": "grupo", "type": "nominal", "sort": ["0 a 14 años", "15 a 34 años", "35 a 64 años", "65 años y más"], "scale": {"paddingInner": 0, "paddingOuter": 0.115}},
              "y": {"datum": 0, "type": "quantitative"},
              "y2": {"datum": -0.024}
            }
          },
          {
            "transform": [{"filter": "isValid(datum.valor)"}],
            "mark": {"type": "bar"},
            "encoding": {
              "x": {"field": "grupo", "type": "nominal", "sort": ["0 a 14 años", "15 a 34 años", "35 a 64 años", "65 años y más"], "scale": {"paddingInner": 0, "paddingOuter": 0.115},
                "axis": {"title": null, "domain": false, "ticks": false, "labelAngle": 0, "labelAlign": "center", "labelPadding": 16, "labelLineHeight": 21, "labelExpr": "datum.value == '65 años y más' ? ['65 años', 'y más'] : [replace(datum.value, ' años', ''), 'años']"}},
              "y": {"field": "valor", "type": "quantitative", "stack": "zero", "scale": {"domain": [-0.4, 0.4], "nice": false},
                "axis": {"title": null, "values": [-0.4, -0.2, 0, 0.2, 0.4], "format": ".1~f", "grid": true, "gridDash": [5, 3.5], "gridColor": "#555", "gridWidth": 1, "domainColor": "#222", "tickColor": "#222", "tickSize": 8, "labelPadding": 3}},
              "color": {"field": "causa", "type": "nominal",
                "scale": {"domain": ["Accidentes de tránsito", "Traumatismos accidentales", "Suicidios", "Homicidios", "Otras causas externas"], "range": ["#1f485d", "#2e9626", "#74b4c6", "#d9e8c1", "#3d9130"]}},
              "order": {"field": "orden", "type": "quantitative", "sort": "ascending"},
              "size": {"field": "grupo", "type": "ordinal", "scale": {"type": "ordinal", "domain": ["0 a 14 años", "15 a 34 años", "35 a 64 años", "65 años y más"], "range": [35, 42, 70, 70]}, "legend": null}
            }
          },
          {
            "transform": [{"filter": "datum.causa == 'Otras causas externas'"}],
            "mark": {"type": "bar"},
            "encoding": {
              "x": {"field": "grupo", "type": "nominal", "sort": ["0 a 14 años", "15 a 34 años", "35 a 64 años", "65 años y más"], "scale": {"paddingInner": 0, "paddingOuter": 0.115}},
              "y": {"field": "valor", "type": "quantitative", "stack": null},
              "size": {"field": "grupo", "type": "ordinal", "scale": {"type": "ordinal", "domain": ["0 a 14 años", "15 a 34 años", "35 a 64 años", "65 años y más"], "range": [35, 42, 70, 70]}, "legend": null},
              "fill": {"condition": [
                {"test": "datum.grupo == '0 a 14 años'", "value": {"gradient": "linear", "x1": 0, "y1": 0, "x2": 1, "y2": 0, "stops": [
                  {"offset": 0, "color": "#fff"}, {"offset": 0.066, "color": "#fff"}, {"offset": 0.066, "color": "#3d9130"}, {"offset": 0.134, "color": "#3d9130"}, {"offset": 0.134, "color": "#fff"},
                  {"offset": 0.266, "color": "#fff"}, {"offset": 0.266, "color": "#3d9130"}, {"offset": 0.334, "color": "#3d9130"}, {"offset": 0.334, "color": "#fff"},
                  {"offset": 0.466, "color": "#fff"}, {"offset": 0.466, "color": "#3d9130"}, {"offset": 0.534, "color": "#3d9130"}, {"offset": 0.534, "color": "#fff"},
                  {"offset": 0.666, "color": "#fff"}, {"offset": 0.666, "color": "#3d9130"}, {"offset": 0.734, "color": "#3d9130"}, {"offset": 0.734, "color": "#fff"},
                  {"offset": 0.866, "color": "#fff"}, {"offset": 0.866, "color": "#3d9130"}, {"offset": 0.934, "color": "#3d9130"}, {"offset": 0.934, "color": "#fff"},
                  {"offset": 1, "color": "#fff"}]}},
                {"test": "datum.grupo == '15 a 34 años'", "value": {"gradient": "linear", "x1": 0, "y1": 0, "x2": 1, "y2": 0, "stops": [
                  {"offset": 0, "color": "#fff"}, {"offset": 0.055, "color": "#fff"}, {"offset": 0.055, "color": "#3d9130"}, {"offset": 0.112, "color": "#3d9130"}, {"offset": 0.112, "color": "#fff"},
                  {"offset": 0.222, "color": "#fff"}, {"offset": 0.222, "color": "#3d9130"}, {"offset": 0.278, "color": "#3d9130"}, {"offset": 0.278, "color": "#fff"},
                  {"offset": 0.389, "color": "#fff"}, {"offset": 0.389, "color": "#3d9130"}, {"offset": 0.445, "color": "#3d9130"}, {"offset": 0.445, "color": "#fff"},
                  {"offset": 0.555, "color": "#fff"}, {"offset": 0.555, "color": "#3d9130"}, {"offset": 0.612, "color": "#3d9130"}, {"offset": 0.612, "color": "#fff"},
                  {"offset": 0.722, "color": "#fff"}, {"offset": 0.722, "color": "#3d9130"}, {"offset": 0.778, "color": "#3d9130"}, {"offset": 0.778, "color": "#fff"},
                  {"offset": 0.889, "color": "#fff"}, {"offset": 0.889, "color": "#3d9130"}, {"offset": 0.945, "color": "#3d9130"}, {"offset": 0.945, "color": "#fff"},
                  {"offset": 1, "color": "#fff"}]}}
              ], "value": {"gradient": "linear", "x1": 0, "y1": 0, "x2": 1, "y2": 0, "stops": [
                  {"offset": 0, "color": "#fff"}, {"offset": 0.033, "color": "#fff"}, {"offset": 0.033, "color": "#3d9130"}, {"offset": 0.067, "color": "#3d9130"}, {"offset": 0.067, "color": "#fff"},
                  {"offset": 0.133, "color": "#fff"}, {"offset": 0.133, "color": "#3d9130"}, {"offset": 0.167, "color": "#3d9130"}, {"offset": 0.167, "color": "#fff"},
                  {"offset": 0.233, "color": "#fff"}, {"offset": 0.233, "color": "#3d9130"}, {"offset": 0.267, "color": "#3d9130"}, {"offset": 0.267, "color": "#fff"},
                  {"offset": 0.333, "color": "#fff"}, {"offset": 0.333, "color": "#3d9130"}, {"offset": 0.367, "color": "#3d9130"}, {"offset": 0.367, "color": "#fff"},
                  {"offset": 0.433, "color": "#fff"}, {"offset": 0.433, "color": "#3d9130"}, {"offset": 0.467, "color": "#3d9130"}, {"offset": 0.467, "color": "#fff"},
                  {"offset": 0.533, "color": "#fff"}, {"offset": 0.533, "color": "#3d9130"}, {"offset": 0.567, "color": "#3d9130"}, {"offset": 0.567, "color": "#fff"},
                  {"offset": 0.633, "color": "#fff"}, {"offset": 0.633, "color": "#3d9130"}, {"offset": 0.667, "color": "#3d9130"}, {"offset": 0.667, "color": "#fff"},
                  {"offset": 0.733, "color": "#fff"}, {"offset": 0.733, "color": "#3d9130"}, {"offset": 0.767, "color": "#3d9130"}, {"offset": 0.767, "color": "#fff"},
                  {"offset": 0.833, "color": "#fff"}, {"offset": 0.833, "color": "#3d9130"}, {"offset": 0.867, "color": "#3d9130"}, {"offset": 0.867, "color": "#fff"},
                  {"offset": 0.933, "color": "#fff"}, {"offset": 0.933, "color": "#3d9130"}, {"offset": 0.967, "color": "#3d9130"}, {"offset": 0.967, "color": "#fff"},
                  {"offset": 1, "color": "#fff"}]}}
            }
          },
          {
            "transform": [{"filter": "datum.causa == 'Otras causas externas'"}],
            "mark": {"type": "bar"},
            "encoding": {
              "x": {"field": "grupo", "type": "nominal", "sort": ["0 a 14 años", "15 a 34 años", "35 a 64 años", "65 años y más"], "scale": {"paddingInner": 0, "paddingOuter": 0.115}},
              "y": {"field": "valor", "type": "quantitative", "stack": null},
              "size": {"field": "grupo", "type": "ordinal", "scale": {"type": "ordinal", "domain": ["0 a 14 años", "15 a 34 años", "35 a 64 años", "65 años y más"], "range": [35, 42, 70, 70]}, "legend": null},
              "fill": {"condition": [
                {"test": "abs(datum.valor) < 0.025", "value": {"gradient": "linear", "x1": 0, "y1": 0, "x2": 0, "y2": 1, "stops": [
                  {"offset": 0, "color": "#fff"}, {"offset": 0.32, "color": "#fff"}, {"offset": 0.32, "color": "rgba(255,255,255,0)"}, {"offset": 0.68, "color": "rgba(255,255,255,0)"}, {"offset": 0.68, "color": "#fff"}, {"offset": 1, "color": "#fff"}]}},
                {"test": "abs(datum.valor) < 0.045", "value": {"gradient": "linear", "x1": 0, "y1": 0, "x2": 0, "y2": 1, "stops": [
                  {"offset": 0, "color": "#fff"},
                  {"offset": 0.16, "color": "#fff"}, {"offset": 0.16, "color": "rgba(255,255,255,0)"}, {"offset": 0.34, "color": "rgba(255,255,255,0)"}, {"offset": 0.34, "color": "#fff"},
                  {"offset": 0.66, "color": "#fff"}, {"offset": 0.66, "color": "rgba(255,255,255,0)"}, {"offset": 0.84, "color": "rgba(255,255,255,0)"}, {"offset": 0.84, "color": "#fff"},
                  {"offset": 1, "color": "#fff"}]}},
                {"test": "abs(datum.valor) < 0.065", "value": {"gradient": "linear", "x1": 0, "y1": 0, "x2": 0, "y2": 1, "stops": [
                  {"offset": 0, "color": "#fff"},
                  {"offset": 0.107, "color": "#fff"}, {"offset": 0.107, "color": "rgba(255,255,255,0)"}, {"offset": 0.227, "color": "rgba(255,255,255,0)"}, {"offset": 0.227, "color": "#fff"},
                  {"offset": 0.44, "color": "#fff"}, {"offset": 0.44, "color": "rgba(255,255,255,0)"}, {"offset": 0.56, "color": "rgba(255,255,255,0)"}, {"offset": 0.56, "color": "#fff"},
                  {"offset": 0.773, "color": "#fff"}, {"offset": 0.773, "color": "rgba(255,255,255,0)"}, {"offset": 0.893, "color": "rgba(255,255,255,0)"}, {"offset": 0.893, "color": "#fff"},
                  {"offset": 1, "color": "#fff"}]}},
                {"test": "abs(datum.valor) < 0.085", "value": {"gradient": "linear", "x1": 0, "y1": 0, "x2": 0, "y2": 1, "stops": [
                  {"offset": 0, "color": "#fff"},
                  {"offset": 0.08, "color": "#fff"}, {"offset": 0.08, "color": "rgba(255,255,255,0)"}, {"offset": 0.17, "color": "rgba(255,255,255,0)"}, {"offset": 0.17, "color": "#fff"},
                  {"offset": 0.33, "color": "#fff"}, {"offset": 0.33, "color": "rgba(255,255,255,0)"}, {"offset": 0.42, "color": "rgba(255,255,255,0)"}, {"offset": 0.42, "color": "#fff"},
                  {"offset": 0.58, "color": "#fff"}, {"offset": 0.58, "color": "rgba(255,255,255,0)"}, {"offset": 0.67, "color": "rgba(255,255,255,0)"}, {"offset": 0.67, "color": "#fff"},
                  {"offset": 0.83, "color": "#fff"}, {"offset": 0.83, "color": "rgba(255,255,255,0)"}, {"offset": 0.92, "color": "rgba(255,255,255,0)"}, {"offset": 0.92, "color": "#fff"},
                  {"offset": 1, "color": "#fff"}]}},
                {"test": "abs(datum.valor) < 0.105", "value": {"gradient": "linear", "x1": 0, "y1": 0, "x2": 0, "y2": 1, "stops": [
                  {"offset": 0, "color": "#fff"},
                  {"offset": 0.064, "color": "#fff"}, {"offset": 0.064, "color": "rgba(255,255,255,0)"}, {"offset": 0.136, "color": "rgba(255,255,255,0)"}, {"offset": 0.136, "color": "#fff"},
                  {"offset": 0.264, "color": "#fff"}, {"offset": 0.264, "color": "rgba(255,255,255,0)"}, {"offset": 0.336, "color": "rgba(255,255,255,0)"}, {"offset": 0.336, "color": "#fff"},
                  {"offset": 0.464, "color": "#fff"}, {"offset": 0.464, "color": "rgba(255,255,255,0)"}, {"offset": 0.536, "color": "rgba(255,255,255,0)"}, {"offset": 0.536, "color": "#fff"},
                  {"offset": 0.664, "color": "#fff"}, {"offset": 0.664, "color": "rgba(255,255,255,0)"}, {"offset": 0.736, "color": "rgba(255,255,255,0)"}, {"offset": 0.736, "color": "#fff"},
                  {"offset": 0.864, "color": "#fff"}, {"offset": 0.864, "color": "rgba(255,255,255,0)"}, {"offset": 0.936, "color": "rgba(255,255,255,0)"}, {"offset": 0.936, "color": "#fff"},
                  {"offset": 1, "color": "#fff"}]}},
                {"test": "abs(datum.valor) < 0.13", "value": {"gradient": "linear", "x1": 0, "y1": 0, "x2": 0, "y2": 1, "stops": [
                  {"offset": 0, "color": "#fff"},
                  {"offset": 0.053, "color": "#fff"}, {"offset": 0.053, "color": "rgba(255,255,255,0)"}, {"offset": 0.113, "color": "rgba(255,255,255,0)"}, {"offset": 0.113, "color": "#fff"},
                  {"offset": 0.22, "color": "#fff"}, {"offset": 0.22, "color": "rgba(255,255,255,0)"}, {"offset": 0.28, "color": "rgba(255,255,255,0)"}, {"offset": 0.28, "color": "#fff"},
                  {"offset": 0.387, "color": "#fff"}, {"offset": 0.387, "color": "rgba(255,255,255,0)"}, {"offset": 0.447, "color": "rgba(255,255,255,0)"}, {"offset": 0.447, "color": "#fff"},
                  {"offset": 0.553, "color": "#fff"}, {"offset": 0.553, "color": "rgba(255,255,255,0)"}, {"offset": 0.613, "color": "rgba(255,255,255,0)"}, {"offset": 0.613, "color": "#fff"},
                  {"offset": 0.72, "color": "#fff"}, {"offset": 0.72, "color": "rgba(255,255,255,0)"}, {"offset": 0.78, "color": "rgba(255,255,255,0)"}, {"offset": 0.78, "color": "#fff"},
                  {"offset": 0.887, "color": "#fff"}, {"offset": 0.887, "color": "rgba(255,255,255,0)"}, {"offset": 0.947, "color": "rgba(255,255,255,0)"}, {"offset": 0.947, "color": "#fff"},
                  {"offset": 1, "color": "#fff"}]}},
                {"test": "abs(datum.valor) < 0.15", "value": {"gradient": "linear", "x1": 0, "y1": 0, "x2": 0, "y2": 1, "stops": [
                  {"offset": 0, "color": "#fff"},
                  {"offset": 0.046, "color": "#fff"}, {"offset": 0.046, "color": "rgba(255,255,255,0)"}, {"offset": 0.097, "color": "rgba(255,255,255,0)"}, {"offset": 0.097, "color": "#fff"},
                  {"offset": 0.189, "color": "#fff"}, {"offset": 0.189, "color": "rgba(255,255,255,0)"}, {"offset": 0.24, "color": "rgba(255,255,255,0)"}, {"offset": 0.24, "color": "#fff"},
                  {"offset": 0.331, "color": "#fff"}, {"offset": 0.331, "color": "rgba(255,255,255,0)"}, {"offset": 0.383, "color": "rgba(255,255,255,0)"}, {"offset": 0.383, "color": "#fff"},
                  {"offset": 0.474, "color": "#fff"}, {"offset": 0.474, "color": "rgba(255,255,255,0)"}, {"offset": 0.526, "color": "rgba(255,255,255,0)"}, {"offset": 0.526, "color": "#fff"},
                  {"offset": 0.617, "color": "#fff"}, {"offset": 0.617, "color": "rgba(255,255,255,0)"}, {"offset": 0.669, "color": "rgba(255,255,255,0)"}, {"offset": 0.669, "color": "#fff"},
                  {"offset": 0.76, "color": "#fff"}, {"offset": 0.76, "color": "rgba(255,255,255,0)"}, {"offset": 0.811, "color": "rgba(255,255,255,0)"}, {"offset": 0.811, "color": "#fff"},
                  {"offset": 0.903, "color": "#fff"}, {"offset": 0.903, "color": "rgba(255,255,255,0)"}, {"offset": 0.954, "color": "rgba(255,255,255,0)"}, {"offset": 0.954, "color": "#fff"},
                  {"offset": 1, "color": "#fff"}]}}
              ], "value": {"gradient": "linear", "x1": 0, "y1": 0, "x2": 0, "y2": 1, "stops": [
                  {"offset": 0, "color": "#fff"},
                  {"offset": 0.04, "color": "#fff"}, {"offset": 0.04, "color": "rgba(255,255,255,0)"}, {"offset": 0.085, "color": "rgba(255,255,255,0)"}, {"offset": 0.085, "color": "#fff"},
                  {"offset": 0.165, "color": "#fff"}, {"offset": 0.165, "color": "rgba(255,255,255,0)"}, {"offset": 0.21, "color": "rgba(255,255,255,0)"}, {"offset": 0.21, "color": "#fff"},
                  {"offset": 0.29, "color": "#fff"}, {"offset": 0.29, "color": "rgba(255,255,255,0)"}, {"offset": 0.335, "color": "rgba(255,255,255,0)"}, {"offset": 0.335, "color": "#fff"},
                  {"offset": 0.415, "color": "#fff"}, {"offset": 0.415, "color": "rgba(255,255,255,0)"}, {"offset": 0.46, "color": "rgba(255,255,255,0)"}, {"offset": 0.46, "color": "#fff"},
                  {"offset": 0.54, "color": "#fff"}, {"offset": 0.54, "color": "rgba(255,255,255,0)"}, {"offset": 0.585, "color": "rgba(255,255,255,0)"}, {"offset": 0.585, "color": "#fff"},
                  {"offset": 0.665, "color": "#fff"}, {"offset": 0.665, "color": "rgba(255,255,255,0)"}, {"offset": 0.71, "color": "rgba(255,255,255,0)"}, {"offset": 0.71, "color": "#fff"},
                  {"offset": 0.79, "color": "#fff"}, {"offset": 0.79, "color": "rgba(255,255,255,0)"}, {"offset": 0.835, "color": "rgba(255,255,255,0)"}, {"offset": 0.835, "color": "#fff"},
                  {"offset": 0.915, "color": "#fff"}, {"offset": 0.915, "color": "rgba(255,255,255,0)"}, {"offset": 0.96, "color": "rgba(255,255,255,0)"}, {"offset": 0.96, "color": "#fff"},
                  {"offset": 1, "color": "#fff"}]}}
            }
          },
          {
            "transform": [{"filter": "isValid(datum.total)"}],
            "mark": {"type": "rule", "color": "#111", "strokeWidth": 1.3},
            "encoding": {"y": {"datum": 0, "type": "quantitative"}}
          },
          {
            "transform": [{"filter": "isValid(datum.total)"}],
            "mark": {"type": "text", "fontSize": 17, "font": "Liberation Sans", "color": "#1a1a1a", "baseline": "middle", "align": "center", "dx": -10},
            "encoding": {
              "x": {"datum": "65 años y más", "type": "nominal"},
              "y": {"datum": -0.31, "type": "quantitative"},
              "text": {"field": "total", "type": "nominal"}
            }
          }
        ]
      }
    }
  ]
}
